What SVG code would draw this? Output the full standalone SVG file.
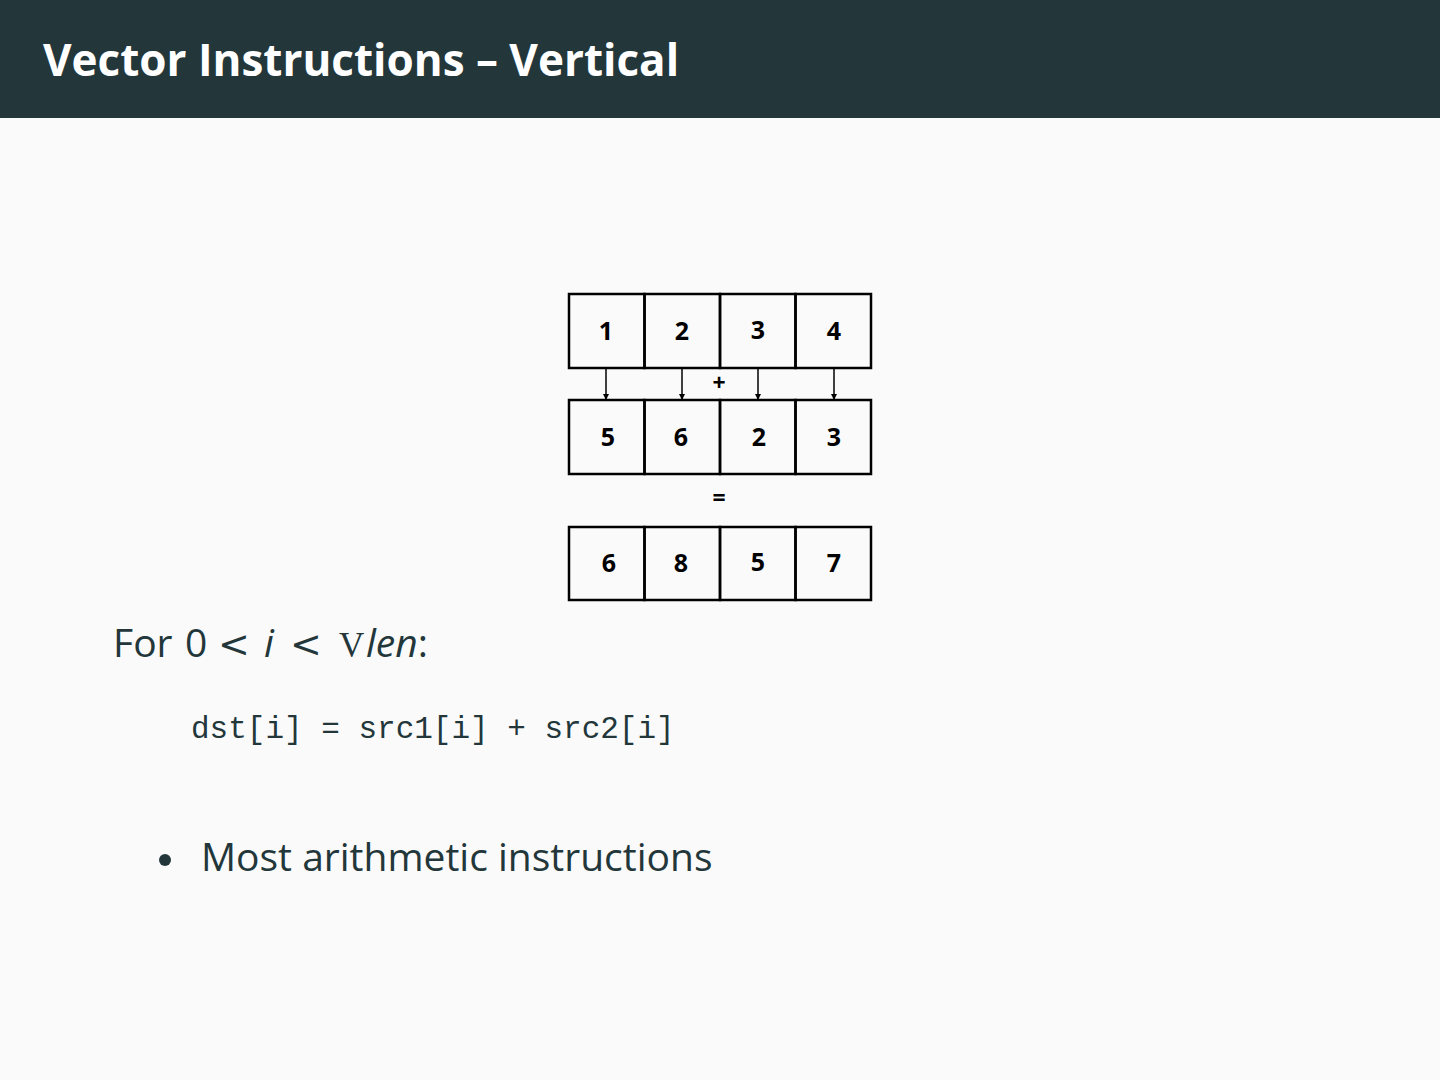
<svg xmlns="http://www.w3.org/2000/svg" width="1440" height="1080" viewBox="0 0 1440 1080">
<style>
.cell{fill:none;stroke:#000;stroke-width:2.5}
.num{font-family:"Open Sans","Liberation Sans",sans-serif;font-weight:bold;font-size:25px;fill:#000;text-anchor:middle}
.op{font-family:"Open Sans","Liberation Sans",sans-serif;font-weight:bold;font-size:23px;fill:#000;text-anchor:middle}
.body{font-family:"Open Sans","Liberation Sans",sans-serif;font-size:39px;fill:#23373b}
.lt{font-family:"DejaVu Sans",sans-serif;font-size:38px}
.code{font-family:"Liberation Mono","DejaVu Sans Mono",monospace;font-size:31px;fill:#23373b}
.arr{stroke:#000;stroke-width:1.5;fill:none;marker-end:url(#ah)}
</style>
<defs>
<marker id="ah" viewBox="0 0 10 10" refX="10" refY="5" markerWidth="6" markerHeight="6" markerUnits="userSpaceOnUse" orient="auto">
<path d="M0,0 L10,5 L0,10 z" fill="#000"/>
</marker>
</defs>
<rect width="1440" height="1080" fill="#fafafa"/>
<g id="title">
<rect width="1440" height="118" fill="#23373b"/>
<text x="43" y="76" font-family="Open Sans, Liberation Sans, sans-serif" font-weight="bold" font-size="44" fill="#fff">Vector Instructions – Vertical</text>
</g>
<g id="src1">
<rect class="cell" x="569" y="294" width="75.5" height="74"/>
<rect class="cell" x="644.5" y="294" width="75.5" height="74"/>
<rect class="cell" x="720" y="294" width="75.5" height="74"/>
<rect class="cell" x="795.5" y="294" width="75.5" height="74"/>
<text class="num" x="606" y="340">1</text>
<text class="num" x="682" y="340">2</text>
<text class="num" x="758" y="339">3</text>
<text class="num" x="834" y="340">4</text>
</g>
<g id="src2">
<rect class="cell" x="569" y="400" width="75.5" height="74"/>
<rect class="cell" x="644.5" y="400" width="75.5" height="74"/>
<rect class="cell" x="720" y="400" width="75.5" height="74"/>
<rect class="cell" x="795.5" y="400" width="75.5" height="74"/>
<text class="num" x="608" y="446">5</text>
<text class="num" x="681" y="446">6</text>
<text class="num" x="759" y="446">2</text>
<text class="num" x="834" y="446">3</text>
</g>
<g id="dst">
<rect class="cell" x="569" y="527" width="75.5" height="73"/>
<rect class="cell" x="644.5" y="527" width="75.5" height="73"/>
<rect class="cell" x="720" y="527" width="75.5" height="73"/>
<rect class="cell" x="795.5" y="527" width="75.5" height="73"/>
<text class="num" x="609" y="572">6</text>
<text class="num" x="681" y="572">8</text>
<text class="num" x="758" y="571">5</text>
<text class="num" x="834" y="572">7</text>
</g>
<g id="ops">
<text class="op" x="719" y="391">+</text>
<text class="op" x="719" y="506">=</text>
</g>
<g id="connectors">
<line class="arr" x1="606" y1="369" x2="606" y2="400"/>
<line class="arr" x1="682" y1="369" x2="682" y2="400"/>
<line class="arr" x1="758" y1="369" x2="758" y2="400"/>
<line class="arr" x1="834" y1="369" x2="834" y2="400"/>
</g>
<g id="text">
<text class="body" y="657"><tspan x="113">For</tspan><tspan x="185">0</tspan><tspan x="218" class="lt">&lt;</tspan><tspan x="264" font-style="italic">i</tspan><tspan x="290" class="lt">&lt;</tspan><tspan x="339" font-family="Liberation Serif, serif" font-size="35">V</tspan><tspan x="366" font-style="italic">len</tspan><tspan>:</tspan></text>
<text class="code" x="191" y="738">dst[i] = src1[i] + src2[i]</text>
<circle cx="165" cy="860" r="6" fill="#23373b"/>
<text class="body" x="201" y="871">Most arithmetic instructions</text>
</g>
</svg>
